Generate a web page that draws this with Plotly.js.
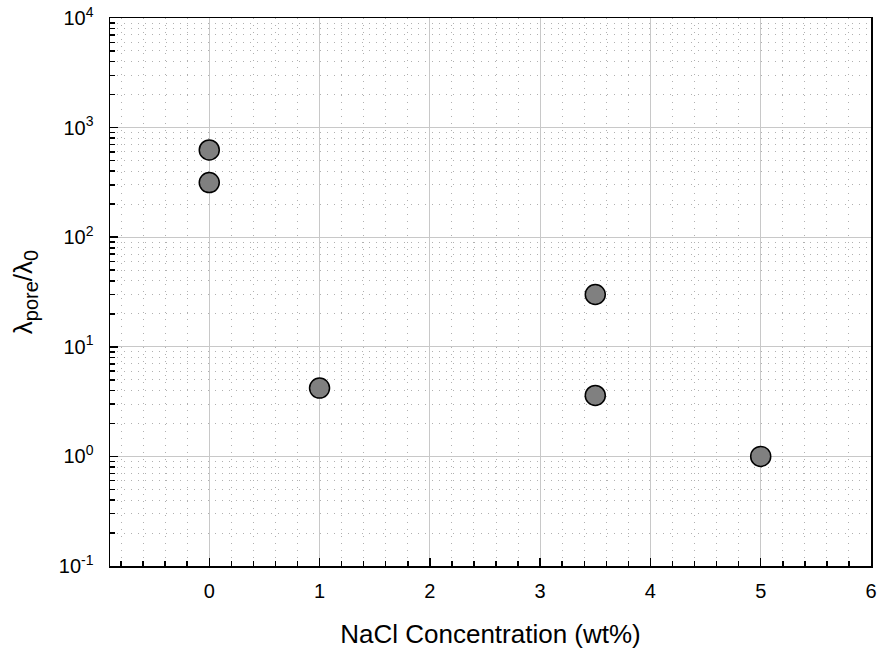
<!DOCTYPE html>
<html>
<head>
<meta charset="utf-8">
<script src="https://cdn.plot.ly/plotly-3.0.1.min.js"></script>
<style>html,body{margin:0;padding:0;background:#fff;}#chart{width:878px;height:649px;}</style>
</head>
<body>
<div id="chart"></div>
<script>
const nacl = [0, 0, 1, 3.5, 3.5, 5];
const ratio = [625, 315, 4.2, 30, 3.6, 1.0];
const yTickVals = [0.1, 1, 10, 100, 1000, 10000];
const yTickText = ['10<sup>-1</sup>', '10<sup>0</sup>', '10<sup>1</sup>', '10<sup>2</sup>', '10<sup>3</sup>', '10<sup>4</sup>'];
const xTitle = 'NaCl Concentration (wt%)';
const yTitle = 'λ<sub><span style="font-size:20px">pore</span></sub>/λ<sub><span style="font-size:20px">0</span></sub>';

const yMinor = [];
for (let e = -1; e < 4; e++) {
  for (let m = 2; m <= 9; m++) yMinor.push(m * Math.pow(10, e));
}

const trace = {
  x: nacl, y: ratio, type: 'scatter', mode: 'markers',
  marker: {size: 20, color: '#808080', line: {color: '#000', width: 1.5}},
  hoverinfo: 'skip'
};

const layout = {
  width: 878, height: 649,
  margin: {l: 110, r: 7, t: 18, b: 83},
  paper_bgcolor: '#fff', plot_bgcolor: '#fff',
  font: {family: 'Arial, Liberation Sans, sans-serif', size: 20, color: '#000'},
  showlegend: false,
  xaxis: {
    range: [-0.9, 6], tick0: 0, dtick: 1,
    ticks: 'inside', ticklen: 8, tickwidth: 1.5, tickcolor: '#000',
    showline: true, linecolor: '#000', linewidth: 1.5, mirror: true,
    showgrid: true, gridcolor: '#c8c8c8', gridwidth: 1.2,
    zeroline: false,
    minor: {dtick: 0.2, tick0: 0, ticks: 'inside', ticklen: 5, tickwidth: 1.5, tickcolor: '#000',
            showgrid: true, gridcolor: '#b0b0b0', griddash: '1px,6px', gridwidth: 1},
    tickfont: {size: 20},
    ticklabelstandoff: 6,
    title: {text: xTitle, font: {size: 26}, standoff: 24}
  },
  yaxis: {
    type: 'log', range: [-1, 4],
    tickmode: 'array', tickvals: yTickVals, ticktext: yTickText,
    ticks: 'inside', ticklen: 8, tickwidth: 1.5, tickcolor: '#000',
    showline: true, linecolor: '#000', linewidth: 1.5, mirror: true,
    showgrid: true, gridcolor: '#c8c8c8', gridwidth: 1.2,
    zeroline: false,
    minor: {tickmode: 'array', tickvals: yMinor, ticks: 'inside', ticklen: 5, tickwidth: 1.5, tickcolor: '#000',
            showgrid: true, gridcolor: '#b0b0b0', griddash: '1px,6px', gridwidth: 1},
    tickfont: {size: 20},
    ticklabelstandoff: 11,
    title: {text: yTitle, font: {size: 26}, standoff: 18}
  }
};

Plotly.newPlot('chart', [trace], layout, {displayModeBar: false, staticPlot: true});
</script>
</body>
</html>
